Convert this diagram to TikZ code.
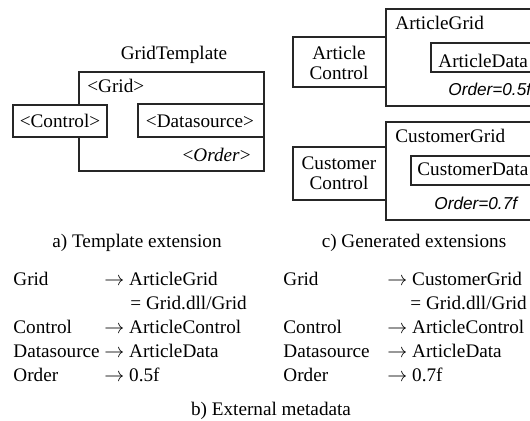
\documentclass[tikz,border=0pt]{standalone}
\usepackage{fontspec}
\setmainfont{Liberation Serif}
\newfontfamily\ordfont{Liberation Sans}
\usepackage{tikz}
\usetikzlibrary{positioning, fit}
\newcommand{\maparrow}{\ensuremath{\rightarrow}}
\tikzset{
  part/.style={
    rectangle, draw=black!85, line width=0.8pt,
    fill=white, inner sep=0pt
  },
  txt/.style={
    inner sep=0pt, anchor=base west,
    font=\fontsize{9.6}{11.5}\selectfont
  },
  ctxt/.style={txt, anchor=base},
  etxt/.style={txt, anchor=base east},
  ord/.style={
    inner sep=0pt, anchor=base west,
    font=\fontsize{8.6}{10}\selectfont\ordfont\itshape
  }
}

\begin{document}
\begin{tikzpicture}[x=0.5pt, y=-0.5pt]
  \useasboundingbox (0,0) rectangle (530,421);
  \clip (0,0) rectangle (530,421);

  \node[ctxt] (tplname) at (174,60) {GridTemplate};
  \node[part, fit={(79,72) (264,171)}] (tgrid) {};
  \node[part, fit={(13,105) (107,137)}] (tctrl) {};
  \node[part, fit={(138,104) (264,137)}] (tdata) {};
  \node[txt] (tgridlbl) at (87,93) {<Grid>};
  \node[ctxt] (tctrllbl) at (60,127.5) {<Control>};
  \node[ctxt] (tdatalbl) at (200,127.5) {<Datasource>};
  \node[etxt] (tordlbl) at (251,162) {<\textit{Order}>};
  \node[ctxt] (capa) at (137,248) {a) Template extension};

  \node[part, fit={(386,9) (545,106)}] (agrid) {};
  \node[part, fit={(293,37) (386,87)}] (actrl) {};
  \node[part, fit={(431,43) (545,72)}] (adata) {};
  \node[txt] (agridlbl) at (395,30) {ArticleGrid};
  \node[ctxt] (actrllbl) at (339,60) {Article};
  \node[ctxt] (actrllbl2) at (339,79.5) {Control};
  \node[txt] (adatalbl) at (438,68) {ArticleData};
  \node[ord] (aordlbl) at (448,96) {Order=0.5f};

  \node[part, fit={(386,122) (545,220)}] (cgrid) {};
  \node[part, fit={(293,147) (386,200)}] (cctrl) {};
  \node[part, fit={(411,156) (545,185)}] (cdata) {};
  \node[txt] (cgridlbl) at (395,143) {CustomerGrid};
  \node[ctxt] (cctrllbl) at (339,169.5) {Customer};
  \node[ctxt] (cctrllbl2) at (339,189.5) {Control};
  \node[txt] (cdatalbl) at (417,176) {CustomerData};
  \node[ord] (cordlbl) at (434,210) {Order=0.7f};
  \node[ctxt] (capc) at (414,248) {c) Generated extensions};

  \node[txt] (lgrid) at (13,286) {Grid};
  \node[txt] (lgridv) at (104,286) {\maparrow{} ArticleGrid};
  \node[txt] (lgridv2) at (130,310) {= Grid.dll/Grid};
  \node[txt] (lctrl) at (13,334) {Control};
  \node[txt] (lctrlv) at (104,334) {\maparrow{} ArticleControl};
  \node[txt] (ldata) at (13,358) {Datasource};
  \node[txt] (ldatav) at (104,358) {\maparrow{} ArticleData};
  \node[txt] (lord) at (13,382) {Order};
  \node[txt] (lordv) at (104,382) {\maparrow{} 0.5f};

  \node[txt] (rgrid) at (283,286) {Grid};
  \node[txt] (rgridv) at (387,286) {\maparrow{} CustomerGrid};
  \node[txt] (rgridv2) at (410,310) {= Grid.dll/Grid};
  \node[txt] (rctrl) at (283,334) {Control};
  \node[txt] (rctrlv) at (387,334) {\maparrow{} ArticleControl};
  \node[txt] (rdata) at (283,358) {Datasource};
  \node[txt] (rdatav) at (387,358) {\maparrow{} ArticleData};
  \node[txt] (rord) at (283,382) {Order};
  \node[txt] (rordv) at (387,382) {\maparrow{} 0.7f};
  \node[ctxt] (capb) at (271,416) {b) External metadata};
\end{tikzpicture}
\end{document}
